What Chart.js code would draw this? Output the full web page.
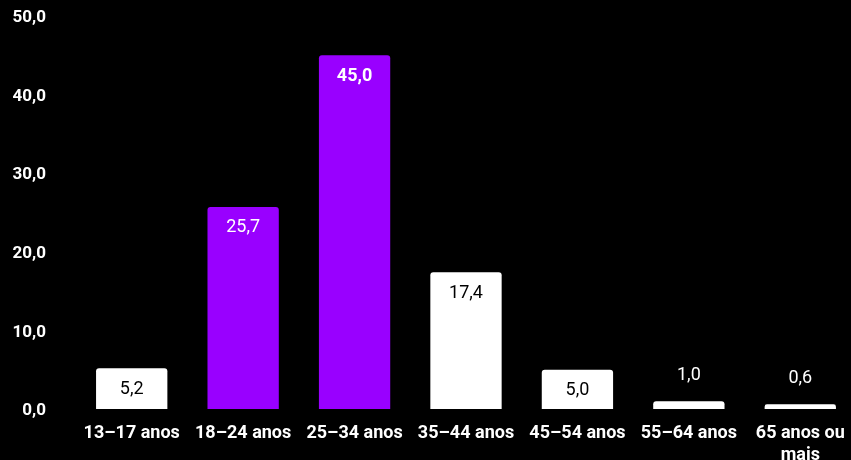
<!DOCTYPE html>
<html>
<head>
<meta charset="utf-8">
<script src="https://cdn.jsdelivr.net/npm/chart.js@4/dist/chart.umd.min.js"></script>
<style>
  html, body { margin: 0; padding: 0; background: #000; overflow: hidden; }
  #wrap { width: 870px; height: 460px; }
</style>
</head>
<body>
<div id="wrap"><canvas id="ageChart" width="870" height="460"></canvas></div>
<script>
const categories = ['13–17 anos', '18–24 anos', '25–34 anos', '35–44 anos', '45–54 anos', '55–64 anos', ['65 anos ou', 'mais']];
const values = [5.2, 25.7, 45.0, 17.4, 5.0, 1.0, 0.6];
const highlighted = [false, true, true, false, false, false, false];
const yTicks = [0, 10, 20, 30, 40, 50];

const PURPLE = '#9900ff';
const fmt = v => v.toFixed(1).replace('.', ',');

// draws the value on each bar, inside if it fits, otherwise above
const valueLabels = {
    id: 'valueLabels',
    afterDatasetsDraw(chart) {
        const ctx = chart.ctx;
        const meta = chart.getDatasetMeta(0);
        ctx.save();
        ctx.textAlign = 'center';
        ctx.textBaseline = 'middle';
        meta.data.forEach((bar, i) => {
            const v = values[i];
            const h = bar.base - bar.y;
            const bold = v === Math.max(...values);
            ctx.font = (bold ? 'bold ' : '') + '18px Roboto';
            if (h > 30) {
                ctx.fillStyle = highlighted[i] ? '#fff' : '#000';
                ctx.fillText(fmt(v), bar.x, bar.y + 21);
            } else {
                ctx.fillStyle = '#fff';
                ctx.fillText(fmt(v), bar.x, bar.y - 26);
            }
        });
        ctx.restore();
    }
};

const ctx = document.getElementById('ageChart').getContext('2d');
new Chart(ctx, {
    type: 'bar',
    data: {
        labels: categories,
        datasets: [{
            data: values,
            backgroundColor: highlighted.map(h => h ? PURPLE : '#ffffff'),
            borderRadius: { topLeft: 3, topRight: 3 },
            borderSkipped: 'start',
            categoryPercentage: 1,
            barPercentage: 0.64
        }]
    },
    options: {
        responsive: false,
        animation: false,
        layout: { padding: { top: 16, right: 14, left: 0, bottom: 0 } },
        plugins: { legend: { display: false }, tooltip: { enabled: false } },
        scales: {
            x: {
                grid: { display: false },
                border: { display: false },
                ticks: {
                    color: '#fff',
                    font: { family: 'Roboto', size: 18, weight: 'bold', lineHeight: 1.25 },
                    padding: 5,
                    maxRotation: 0,
                    autoSkip: false
                },
                afterFit: s => { s.height = 51; s.paddingLeft = 0; s.paddingRight = 0; }
            },
            y: {
                min: 0,
                max: 50,
                grid: { display: false, drawTicks: false },
                border: { display: false },
                afterBuildTicks: s => { s.ticks = yTicks.map(v => ({ value: v })); },
                ticks: {
                    color: '#fff',
                    font: { family: 'Roboto', size: 17, weight: 'bold' },
                    padding: 30,
                    labelOffset: 2,
                    callback: v => fmt(v)
                },
                afterFit: s => { s.width = 76; s.paddingTop = 0; s.paddingBottom = 0; }
            }
        }
    },
    plugins: [valueLabels]
});
</script>
</body>
</html>
